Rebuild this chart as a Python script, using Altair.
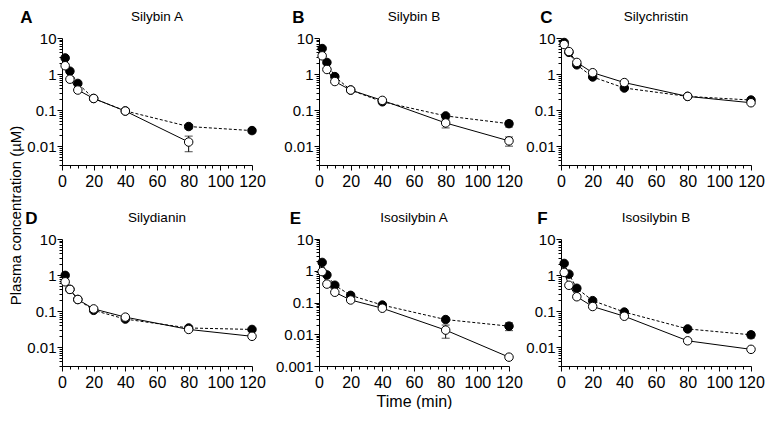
import altair as alt
import pandas as pd

FONT = "Liberation Sans"

TIMES = [2, 5, 10, 20, 40, 80, 120]
LETTERS = ["A", "B", "C", "D", "E", "F"]
NAMES = ["Silybin A", "Silybin B", "Silychristin", "Silydianin", "Isosilybin A", "Isosilybin B"]

# filled circles (dashed line) and open circles (solid line), µM
A_f = [2.8, 1.2, 0.55, 0.21, 0.095, 0.035, 0.027]
A_o = [1.7, 0.72, 0.36, 0.21, 0.094, 0.013, None]
B_f = [5.1, 2.1, 0.85, 0.36, 0.17, 0.069, 0.042]
B_o = [3.2, 1.34, 0.62, 0.36, 0.186, 0.044, 0.014]
C_f = [7.5, 4.0, 1.8, 0.83, 0.41, 0.24, 0.19]
C_o = [6.6, 4.2, 2.1, 1.09, 0.58, 0.24, 0.16]
D_f = [0.98, 0.4, 0.21, 0.105, 0.06, 0.034, 0.031]
D_o = [0.65, 0.4, 0.21, 0.115, 0.068, 0.031, 0.02]
E_f = [1.83, 0.74, 0.35, 0.168, 0.083, 0.029, 0.018]
E_o = [0.94, 0.38, 0.21, 0.12, 0.066, 0.0135, 0.0019]
F_f = [2.1, 1.06, 0.43, 0.195, 0.094, 0.032, 0.022]
F_o = [1.18, 0.52, 0.25, 0.134, 0.072, 0.015, 0.0087]

# SEM (only the visible ones)
A_f_err = [0, 0, 0, 0, 0, 0.005, 0.004]
A_o_err = [0, 0, 0, 0, 0, 0.006, 0]
B_f_err = [0, 0, 0, 0, 0, 0, 0.008]
B_o_err = [0, 0, 0, 0, 0, 0.012, 0.004]
C_f_err = [0, 0, 0, 0, 0, 0, 0]
C_o_err = [0, 0, 0, 0, 0, 0, 0]
D_f_err = [0, 0, 0, 0, 0, 0, 0]
D_o_err = [0, 0, 0, 0, 0, 0, 0]
E_f_err = [0, 0, 0, 0, 0, 0, 0.005]
E_o_err = [0, 0, 0, 0, 0, 0.006, 0]
F_f_err = [0, 0, 0, 0, 0, 0, 0.004]
F_o_err = [0, 0, 0, 0, 0, 0, 0]

SERIES = [
    (A_f, A_f_err, A_o, A_o_err),
    (B_f, B_f_err, B_o, B_o_err),
    (C_f, C_f_err, C_o, C_o_err),
    (D_f, D_f_err, D_o, D_o_err),
    (E_f, E_f_err, E_o, E_o_err),
    (F_f, F_f_err, F_o, F_o_err),
]
YMIN = [0.003, 0.003, 0.003, 0.003, 0.001, 0.003]
LETTER_X = [-36, -21, -15, -31, -24, -19]

PLOT_W = 190
PLOT_H = 127
EXTRA_W = [15, 0, 0, 15, 0, 0]   # extra gap to the right of the first column

X_TICKS = list(range(0, 121, 5))
DECADES = [0.001, 0.01, 0.1, 1, 10]
MANTISSAS = [2, 3, 4, 5, 6, 7, 8, 9]


def y_ticks(ymin):
    vals = [d for d in DECADES if d >= ymin]
    for d in DECADES[:-1]:
        for m in MANTISSAS:
            v = round(m * d, 6)
            if v >= ymin - 1e-12:
                vals.append(v)
    return vals


is_decade = " || ".join(f"datum.value == {d}" for d in DECADES)


def panel(i):
    f, fe, o, oe = SERIES[i]
    rows = []
    for t, v, e in zip(TIMES, f, fe):
        if v is not None:
            rows.append({"t": t, "c": v, "lo": v - e, "hi": v + e, "err": e, "g": "f"})
    for t, v, e in zip(TIMES, o, oe):
        if v is not None:
            rows.append({"t": t, "c": v, "lo": v - e, "hi": v + e, "err": e, "g": "o"})
    df = pd.DataFrame(rows)

    xscale = alt.Scale(domain=[0, 120], nice=False, zero=False, range=[0, PLOT_W])
    yscale = alt.Scale(type="log", domain=[YMIN[i], 10], nice=False)
    xaxis = alt.Axis(
        values=X_TICKS,
        labelExpr="datum.value % 20 == 0 ? datum.label : ''",
        labelOverlap=False,
        labelFlush=False,
        tickSize={"condition": {"test": "datum.value % 20 == 0", "value": 5}, "value": 3},
        labelFontSize=16,
        labelPadding=3,
        title="Time (min)" if i == 4 else None,
        titleFontSize=16,
        titleFontWeight="normal",
        titlePadding=3,
    )
    yaxis = alt.Axis(
        values=y_ticks(YMIN[i]),
        labelExpr=f"({is_decade}) ? format(datum.value, '~g') : ''",
        labelOverlap=False,
        labelFlush=False,
        tickSize={"condition": {"test": is_decade, "value": 5}, "value": 3},
        labelFontSize=15,
        labelPadding=1,
        title=LETTERS[i],
        titleAngle=0,
        titleX=LETTER_X[i],
        titleY=-21,
        titleAlign="center",
        titleBaseline="middle",
        titleFontSize=17,
        titleFontWeight="bold",
    )
    X = alt.X("t:Q", scale=xscale, axis=xaxis)
    base = alt.Chart(df)
    Yc = alt.Y("c:Q", scale=yscale, axis=yaxis)

    line_f = base.transform_filter("datum.g == 'f'").mark_line(
        color="black", strokeWidth=1, strokeDash=[3, 2]).encode(x=X, y=Yc)
    line_o = base.transform_filter("datum.g == 'o'").mark_line(
        color="black", strokeWidth=1).encode(x=X, y=Yc)
    eb = base.transform_filter("datum.err > 0")
    err_rule = eb.mark_rule(color="black", strokeWidth=1).encode(
        x=X, y=alt.Y("lo:Q", scale=yscale, axis=yaxis), y2="hi:Q")
    cap_lo = eb.mark_tick(color="black", orient="horizontal", size=8, thickness=1).encode(
        x=X, y=alt.Y("lo:Q", scale=yscale, axis=yaxis))
    cap_hi = eb.mark_tick(color="black", orient="horizontal", size=8, thickness=1).encode(
        x=X, y=alt.Y("hi:Q", scale=yscale, axis=yaxis))
    pts_f = base.transform_filter("datum.g == 'f'").mark_point(
        shape="circle", filled=True, fill="black", stroke="black", strokeWidth=1,
        size=72, opacity=1).encode(x=X, y=Yc)
    pts_o = base.transform_filter("datum.g == 'o'").mark_point(
        shape="circle", filled=True, fill="white", stroke="black", strokeWidth=1,
        size=72, opacity=1).encode(x=X, y=Yc)

    return alt.layer(line_f, line_o, err_rule, cap_lo, cap_hi, pts_f, pts_o).properties(
        width=PLOT_W + EXTRA_W[i], height=PLOT_H,
        title=alt.TitleParams(NAMES[i], fontSize=13.5, fontWeight="normal", font=FONT,
                              anchor="middle", frame="group", offset=-15,
                              dx=-EXTRA_W[i] / 2),
    )


chart = alt.concat(*[panel(i) for i in range(6)], columns=3,
                   spacing={"row": 74, "column": 52}, bounds="flush").properties(
    padding={"left": 0, "top": 0, "right": 0, "bottom": 0},
    title=alt.TitleParams("Plasma concentration (µM)", orient="left", anchor="middle",
                          fontSize=15, fontWeight="normal", font=FONT, offset=-4,
                          dx=-7),
).configure_view(stroke=None).configure_axis(
    grid=False,
    domainColor="black",
    tickColor="black",
    labelColor="black",
    titleColor="black",
    labelFont=FONT,
    titleFont=FONT,
    domainWidth=1,
    tickWidth=1,
).configure_title(color="black")

chart.save("out.html", embed_options={"renderer": "svg", "actions": False})
